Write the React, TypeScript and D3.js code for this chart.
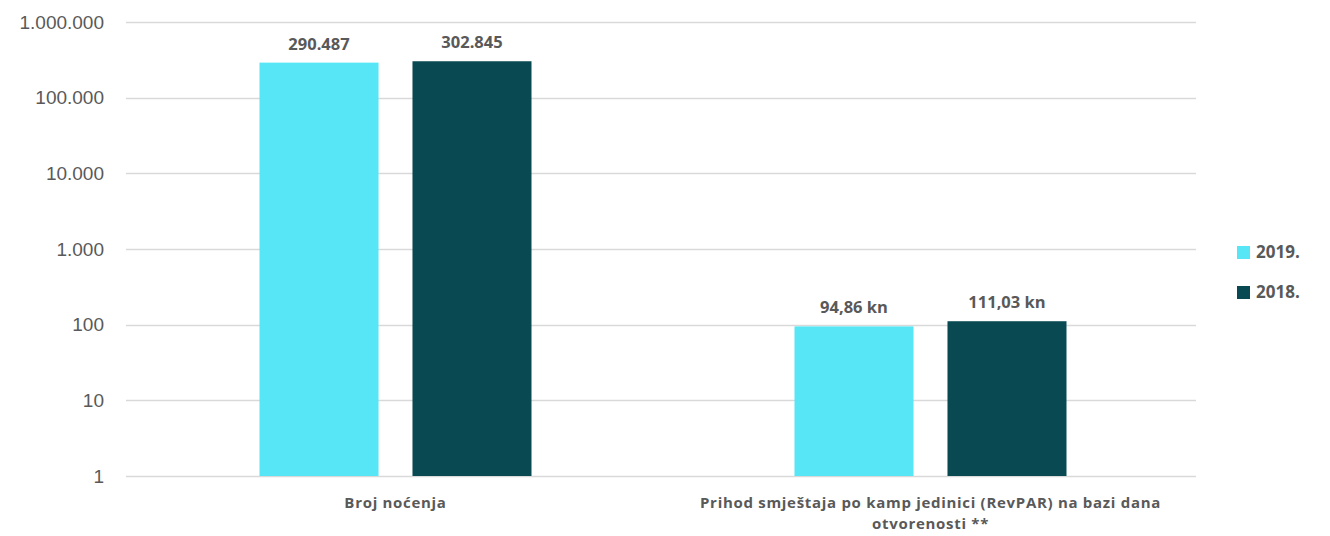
import React, { useRef, useEffect } from "react";
import * as d3 from "d3";

const categories = ["Broj noćenja", "Prihod smještaja po kamp jedinici (RevPAR) na bazi dana otvorenosti **"];
const categoryLines = [["Broj noćenja"], ["Prihod smještaja po kamp jedinici (RevPAR) na bazi dana", "otvorenosti **"]];
const seriesNames = ["2019.", "2018."];
const values2019 = [290487, 94.86];
const values2018 = [302845, 111.03];
const labels2019 = ["290.487", "94,86 kn"];
const labels2018 = ["302.845", "111,03 kn"];
const tickValues = [1, 10, 100, 1000, 10000, 100000, 1000000];
const tickLabels = ["1", "10", "100", "1.000", "10.000", "100.000", "1.000.000"];
const colors = ["#57E6F5", "#094A52"];

const W = 1330;
const H = 536;

export default function App() {
  const ref = useRef<SVGSVGElement>(null);

  useEffect(() => {
    if (!ref.current) return;
    const svg = d3.select(ref.current);
    svg.selectAll("*").remove();

    const left = 126;
    const right = 1196;
    const top = 22;
    const bottom = 476;
    const font = "'Open Sans', 'Liberation Sans', sans-serif";

    const y = d3.scaleLog().domain([1, 1000000]).range([bottom, top]);
    const x0 = d3.scaleBand().domain(categories).range([128, 1198]);
    const x1 = d3.scaleBand().domain(seriesNames).range([0, 272]).paddingInner(0.222);

    // grid
    svg
      .append("g")
      .selectAll("line")
      .data(tickValues)
      .join("line")
      .attr("x1", left)
      .attr("x2", right)
      .attr("y1", (d) => Math.round(y(d)) + 0.5)
      .attr("y2", (d) => Math.round(y(d)) + 0.5)
      .attr("stroke", "#d9d9d9")
      .attr("stroke-width", 1.5);

    // tick labels
    svg
      .append("g")
      .selectAll("text")
      .data(tickValues)
      .join("text")
      .attr("x", 104)
      .attr("y", (d) => y(d))
      .attr("dy", "0.35em")
      .attr("text-anchor", "end")
      .style("font-family", "'Liberation Sans', Arial, sans-serif")
      .style("font-size", "19px")
      .style("fill", "#595959")
      .text((d, i) => tickLabels[i]);

    const series = [values2019, values2018];
    const labels = [labels2019, labels2018];

    categories.forEach((cat, ci) => {
      const cx = x0(cat)! + x0.bandwidth() / 2;
      const gx = cx - 136;
      seriesNames.forEach((s, si) => {
        const v = series[si][ci];
        const bx = gx + x1(s)!;
        svg
          .append("rect")
          .attr("x", bx)
          .attr("y", y(v))
          .attr("width", x1.bandwidth())
          .attr("height", bottom - y(v))
          .attr("fill", colors[si]);
        svg
          .append("text")
          .attr("x", bx + x1.bandwidth() / 2)
          .attr("y", y(v) - 13)
          .attr("text-anchor", "middle")
          .style("font-family", font)
          .style("font-size", "16.5px")
          .style("font-weight", "bold")
          .style("fill", "#595959")
          .text(labels[si][ci]);
      });

      categoryLines[ci].forEach((line, li) => {
        svg
          .append("text")
          .attr("x", cx)
          .attr("y", 508 + li * 21)
          .attr("text-anchor", "middle")
          .style("font-family", font)
          .style("font-size", "15px")
          .style("font-weight", "bold")
          .style("letter-spacing", "0.7px")
          .style("fill", "#595959")
          .text(line);
      });
    });

    // legend
    seriesNames.forEach((s, i) => {
      const ly = 252 + i * 40;
      svg
        .append("rect")
        .attr("x", 1237)
        .attr("y", ly - 6)
        .attr("width", 13)
        .attr("height", 13)
        .attr("fill", colors[i]);
      svg
        .append("text")
        .attr("x", 1256)
        .attr("y", ly)
        .attr("dy", "0.35em")
        .style("font-family", font)
        .style("font-size", "17px")
        .style("font-weight", "bold")
        .style("fill", "#595959")
        .text(s);
    });
  }, []);

  return (
    <svg
      ref={ref}
      width={W}
      height={H}
      style={{ position: "absolute", left: 0, top: 0, background: "#fff" }}
      viewBox={`0 0 ${W} ${H}`}
    />
  );
}
